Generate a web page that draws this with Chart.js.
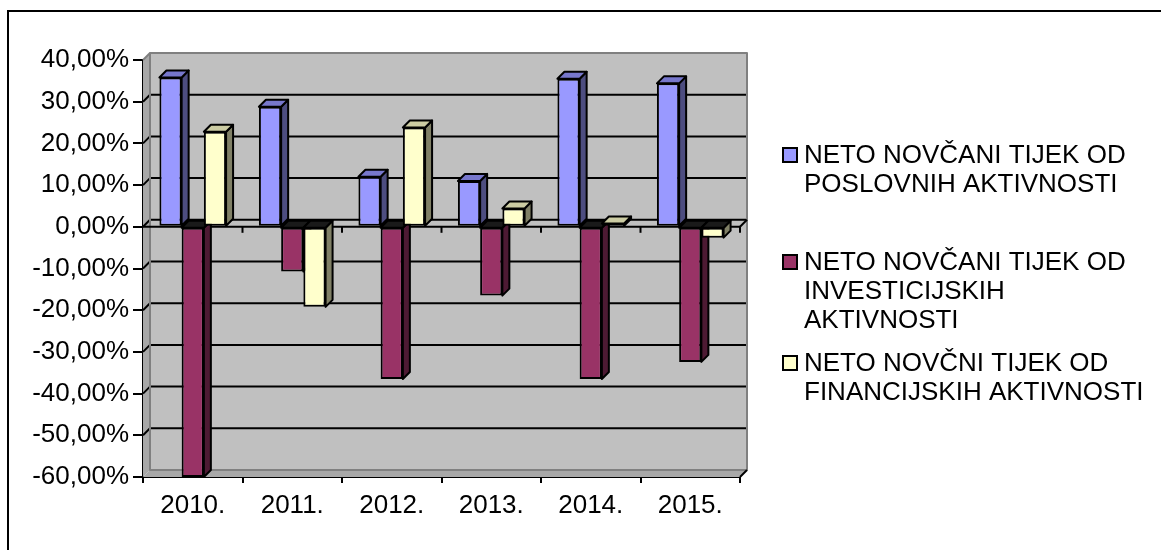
<!DOCTYPE html>
<html><head><meta charset="utf-8">
<script src="https://cdn.jsdelivr.net/npm/chart.js@4.4.1/dist/chart.umd.min.js"></script>
<style>html,body{margin:0;padding:0;background:#fff;}#wrap{width:1161px;height:550px;position:relative;}</style>
</head><body><div id="wrap"><canvas id="c" width="1161" height="550"></canvas></div>
<script>
// ---- data ----
const categories = ['2010.', '2011.', '2012.', '2013.', '2014.', '2015.'];
const poslovne = [35.8, 28.8, 12.0, 11.0, 35.5, 34.4];
const investicijske = [-60.0, -10.7, -36.5, -16.5, -36.5, -32.4];
const financijske = [22.8, -19.2, 23.8, 4.4, 0.8, -2.6];
const seriesLines = [
  ['NETO NOVČANI TIJEK OD', 'POSLOVNIH AKTIVNOSTI'],
  ['NETO NOVČANI TIJEK OD', 'INVESTICIJSKIH', 'AKTIVNOSTI'],
  ['NETO NOVČNI TIJEK OD', 'FINANCIJSKIH AKTIVNOSTI']
];
const yTickValues = [-60, -50, -40, -30, -20, -10, 0, 10, 20, 30, 40];

// ---- styles ----
const FONT = '"Liberation Sans", Arial, sans-serif';
const FS = 26;
const frontColors = ['#9999FF', '#993366', '#FFFFCC'];
const sideColors = ['#4D4D80', '#4D1A33', '#808066'];
const topColors = ['#7777CC', '#7A2952', '#CCCCA3'];
const D = 7;

function poly(ctx, pts, fill, stroke, lw) {
  ctx.beginPath();
  ctx.moveTo(pts[0][0], pts[0][1]);
  for (let i = 1; i < pts.length; i++) ctx.lineTo(pts[i][0], pts[i][1]);
  ctx.closePath();
  if (fill) { ctx.fillStyle = fill; ctx.fill(); }
  if (stroke) { ctx.strokeStyle = stroke; ctx.lineWidth = lw || 2; ctx.stroke(); }
}
function line(ctx, x1, y1, x2, y2, c, lw) {
  ctx.beginPath(); ctx.moveTo(x1, y1); ctx.lineTo(x2, y2);
  ctx.strokeStyle = c; ctx.lineWidth = lw; ctx.stroke();
}

const wallsPlugin = {
  id: 'walls3d',
  beforeDatasetsDraw(chart) {
    const { ctx, chartArea: a, scales: { x, y } } = chart;
    ctx.save();
    ctx.lineJoin = 'round';
    ctx.fillStyle = '#C0C0C0';
    ctx.fillRect(a.left + D, a.top - D, a.right - a.left, a.bottom - a.top);
    poly(ctx, [[a.left, a.top], [a.left + D, a.top - D], [a.left + D, a.bottom - D], [a.left, a.bottom]], '#A8A8A8');
    poly(ctx, [[a.left, a.bottom], [a.left + D, a.bottom - D], [a.right + D, a.bottom - D], [a.right, a.bottom]], '#A8A8A8');
    const maxV = yTickValues[yTickValues.length - 1];
    const minV = yTickValues[0];
    yTickValues.forEach(v => {
      const py = y.getPixelForValue(v);
      if (v === maxV || v === minV) return;
      line(ctx, a.left + D, py - D, a.right + D, py - D, '#000', 2);
      line(ctx, a.left, py, a.left + D, py - D, '#000', 2);
    });
    ctx.strokeStyle = '#808080'; ctx.lineWidth = 2;
    ctx.strokeRect(a.left + D, a.top - D, a.right - a.left, a.bottom - a.top);
    line(ctx, a.left, a.top, a.left + D, a.top - D, '#808080', 2);
    line(ctx, a.right, a.bottom, a.right + D, a.bottom - D, '#000', 2);
    const y0 = y.getPixelForValue(0);
    line(ctx, a.left, y0, a.right, y0, '#000', 2);
    line(ctx, a.right, y0, a.right + D, y0 - D, '#000', 2);
    const n = categories.length;
    for (let i = 1; i <= n; i++) {
      const bx = a.left + i * (a.right - a.left) / n;
      line(ctx, bx, y0, bx, y0 + 6, '#000', 2);
    }
    chart.data.datasets.forEach((ds, di) => {
      const meta = chart.getDatasetMeta(di);
      meta.data.forEach((el, i) => {
        const v = ds.data[i];
        const w = el.width;
        const l = el.x - w / 2, r = el.x + w / 2;
        const top = Math.min(el.y, el.base), bot = Math.max(el.y, el.base);
        poly(ctx, [[r, top], [r + D, top - D], [r + D, bot - D], [r, bot]], sideColors[di], '#000', 2);
        poly(ctx, [[l, top], [r, top], [r + D, top - D], [l + D, top - D]], v >= 0 ? topColors[di] : '#1A1A1A', '#000', 2);
      });
    });
    ctx.restore();
  }
};

const legendPlugin = {
  id: 'legend3d',
  afterDraw(chart) {
    const ctx = chart.ctx;
    ctx.save();
    ctx.font = FS + 'px ' + FONT;
    ctx.textBaseline = 'alphabetic';
    ctx.textAlign = 'left';
    const itemTops = [145, 252, 353];
    const lh = 29;
    seriesLines.forEach((lines, si) => {
      const t = itemTops[si];
      ctx.fillStyle = frontColors[si];
      ctx.fillRect(783, t + 3, 14, 14);
      ctx.strokeStyle = '#000'; ctx.lineWidth = 2;
      ctx.strokeRect(783, t + 3, 14, 14);
      ctx.fillStyle = '#000';
      lines.forEach((s, li) => ctx.fillText(s, 804, t + 18 + li * lh));
    });
    ctx.strokeStyle = '#000'; ctx.lineWidth = 2;
    ctx.strokeRect(8, 11, 1300, 700);
    ctx.restore();
  }
};

new Chart(document.getElementById('c'), {
  type: 'bar',
  data: {
    labels: categories,
    datasets: [poslovne, investicijske, financijske].map((d, i) => ({
      label: seriesLines[i].join(' '),
      data: d,
      backgroundColor: frontColors[i],
      borderColor: '#000',
      borderWidth: 2,
      borderSkipped: false,
      categoryPercentage: 0.67,
      barPercentage: 1.0
    }))
  },
  options: {
    responsive: false,
    animation: false,
    events: [],
    layout: { padding: { left: 0, top: 60, right: 421, bottom: 0 } },
    plugins: { legend: { display: false }, tooltip: { enabled: false } },
    scales: {
      x: {
        grid: { drawOnChartArea: false, offset: true, tickLength: 6, color: '#000', lineWidth: 2 },
        border: { color: '#000', width: 2 },
        ticks: { color: '#000', font: { family: FONT, size: FS }, padding: 7, maxRotation: 0 },
        afterFit(s) { s.height = 73; }
      },
      y: {
        min: -60, max: 40,
        afterBuildTicks(s) { s.ticks = yTickValues.map(v => ({ value: v })); },
        grid: { drawOnChartArea: false, tickLength: 10, color: '#000', lineWidth: 2 },
        border: { color: '#000', width: 2 },
        ticks: {
          color: '#000', font: { family: FONT, size: FS }, padding: 4,
          callback: v => v.toFixed(2).replace('.', ',') + '%'
        },
        afterFit(s) { s.width = 143; }
      }
    }
  },
  plugins: [wallsPlugin, legendPlugin]
});
</script></body></html>
